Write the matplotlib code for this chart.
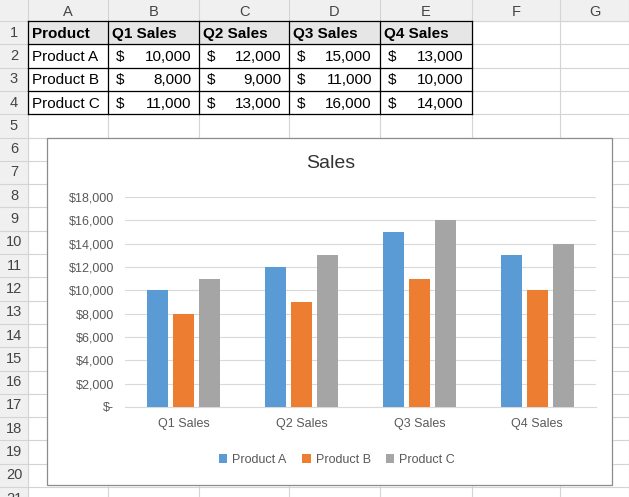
import matplotlib
matplotlib.use("Agg")
import matplotlib.pyplot as plt
from matplotlib.patches import Rectangle

products = ["Product A", "Product B", "Product C"]
quarters = ["Q1 Sales", "Q2 Sales", "Q3 Sales", "Q4 Sales"]
sales_a = [10000, 12000, 15000, 13000]
sales_b = [8000, 9000, 11000, 10000]
sales_c = [11000, 13000, 16000, 14000]
series = [sales_a, sales_b, sales_c]
colors = ["#5B9BD5", "#ED7D31", "#A5A5A5"]
yticks = list(range(0, 18001, 2000))
ytick_labels = ["$-"] + [f"${v:,}" for v in yticks[1:]]
col_letters = ["A", "B", "C", "D", "E", "F", "G"]

W, H = 629, 497
fig = plt.figure(figsize=(W/100, H/100), dpi=100)
bg = fig.add_axes([0, 0, 1, 1])
bg.set_xlim(0, W); bg.set_ylim(H, 0); bg.axis("off")
FONT = "Liberation Sans"

col_edges = [28, 108, 199, 289, 380, 472, 560, 629]
hdr_h = 21
row_h = 23.3
row_edges = [hdr_h + i*row_h for i in range(22)]

bg.add_patch(Rectangle((0, 0), W, hdr_h, color="#F0F0F0", zorder=0))
bg.add_patch(Rectangle((0, 0), 28, H, color="#F0F0F0", zorder=0))
for x in col_edges:
    bg.plot([x, x], [0, H], color="#D4D4D4", lw=0.8, zorder=1)
for y in row_edges:
    bg.plot([0, W], [y, y], color="#D4D4D4", lw=0.8, zorder=1)
for i, c in enumerate(col_letters):
    bg.text((col_edges[i]+col_edges[i+1])/2, hdr_h/2+1, c, ha="center", va="center",
            fontsize=10.5, family=FONT, color="#444444")
for r in range(21):
    bg.text(14, (row_edges[r]+row_edges[r+1])/2, str(r+1), ha="center", va="center",
            fontsize=10.5, family=FONT, color="#444444", clip_on=True)

bg.add_patch(Rectangle((col_edges[0], row_edges[0]), col_edges[5]-col_edges[0], row_h,
                       color="#E7E6E6", zorder=1))
for x in col_edges[:6]:
    bg.plot([x, x], [row_edges[0], row_edges[4]], color="black", lw=0.9, zorder=2)
for y in row_edges[:5]:
    bg.plot([col_edges[0], col_edges[5]], [y, y], color="black", lw=0.9, zorder=2)
def cy(r):
    return (row_edges[r]+row_edges[r+1])/2 + 1
bg.text(col_edges[0]+4, cy(0), "Product", ha="left", va="center", fontsize=11,
        weight="bold", family=FONT, zorder=3)
for j, q in enumerate(quarters):
    bg.text(col_edges[j+1]+4, cy(0), q, ha="left", va="center", fontsize=11,
            weight="bold", family=FONT, zorder=3)
for i, p in enumerate(products):
    bg.text(col_edges[0]+4, cy(i+1), p, ha="left", va="center", fontsize=11, family=FONT, zorder=3)
    for j in range(4):
        bg.text(col_edges[j+1]+8, cy(i+1), "$", ha="left", va="center", fontsize=11, family=FONT, zorder=3)
        bg.text(col_edges[j+2]-8, cy(i+1), f"{series[i][j]:,}", ha="right", va="center",
                fontsize=11, family=FONT, zorder=3)

bg.add_patch(Rectangle((47, 138), 565, 347, facecolor="white", edgecolor="#8C8C8C", lw=0.9, zorder=4))
bg.text(331, 163, "Sales", ha="center", va="center", fontsize=14, family=FONT, color="#333333", zorder=5)

ax = fig.add_axes([125/W, (H-407)/H, 471/W, 210/H], zorder=5)
ax.set_facecolor("none")
x = list(range(len(quarters)))
offsets = [-0.22, 0, 0.22]
for k in range(3):
    ax.bar([xi + offsets[k] for xi in x], series[k], width=0.178, color=colors[k],
           label=products[k], zorder=3)
ax.set_xlim(-0.5, 3.5)
ax.set_ylim(0, 18000)
ax.set_yticks(yticks)
ax.set_yticklabels(ytick_labels, fontsize=9, family=FONT, color="#595959")
ax.set_xticks(x)
ax.set_xticklabels(quarters, fontsize=9, family=FONT, color="#595959")
ax.grid(axis="y", color="#D9D9D9", lw=0.8, zorder=0)
for s in ["top", "right", "left"]:
    ax.spines[s].set_visible(False)
ax.spines["bottom"].set_color("#D9D9D9")
ax.tick_params(length=0, pad=8)
ax.legend(loc="upper center", bbox_to_anchor=(0.45, -0.17), ncol=3, frameon=False,
          prop={"family": FONT, "size": 9}, handlelength=0.7, handleheight=0.7,
          columnspacing=1.2, handletextpad=0.4, labelcolor="#595959")

fig.savefig("out.png", dpi=100)
